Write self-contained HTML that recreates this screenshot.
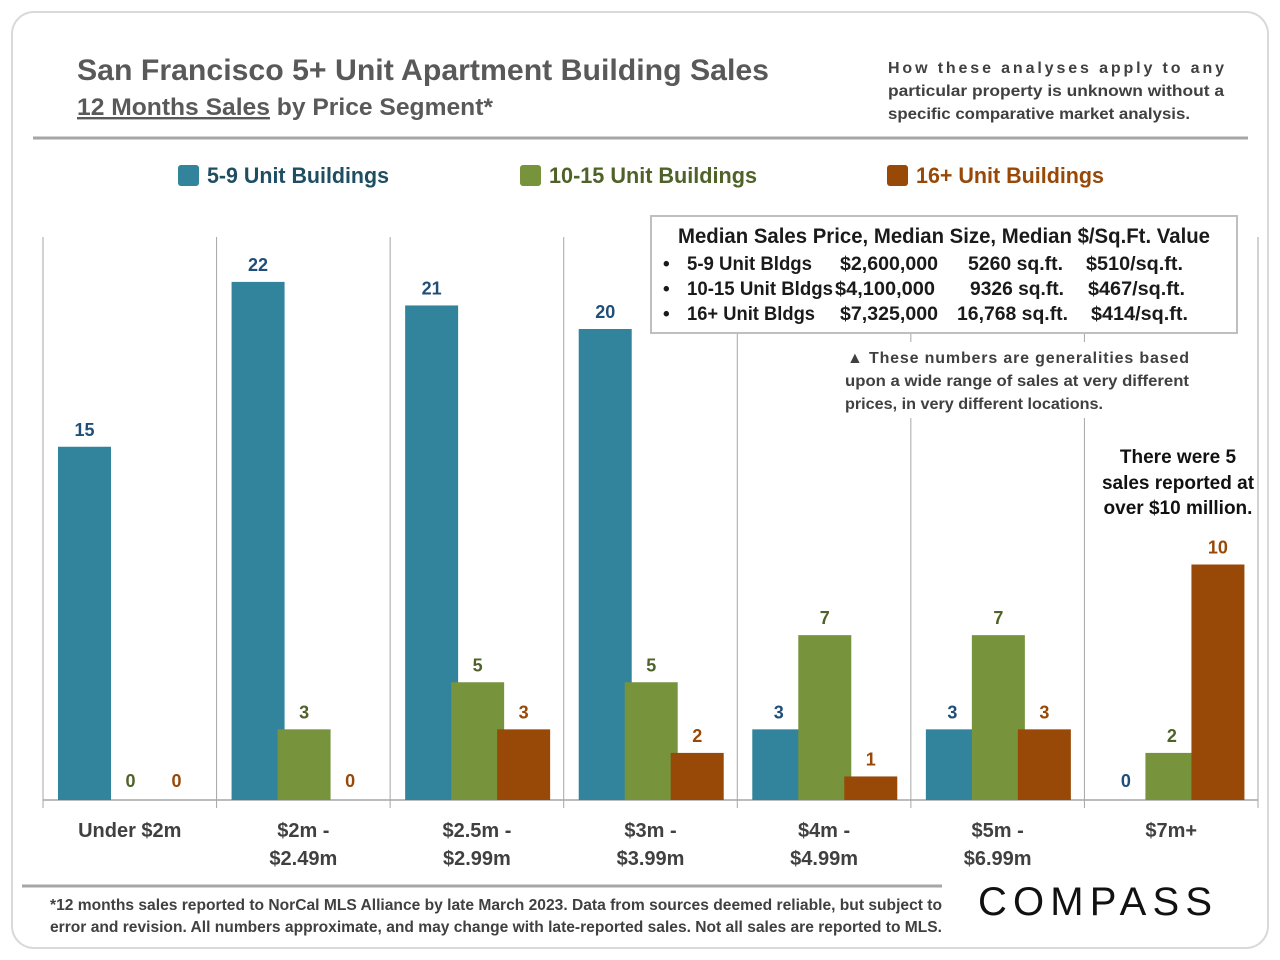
<!DOCTYPE html>
<html><head><meta charset="utf-8"><style>
body{margin:0;background:#fff}
svg{display:block;font-family:"Liberation Sans",sans-serif}
</style></head><body>
<svg id="c" width="1280" height="960" viewBox="0 0 1280 960">
<rect x="12" y="12" width="1256" height="936" rx="22" fill="#fff" stroke="#d9d9d9" stroke-width="2"/>
<text x="77" y="80" font-size="30" font-weight="bold" fill="#595959" textLength="692" lengthAdjust="spacingAndGlyphs">San Francisco 5+ Unit Apartment Building Sales</text>
<text x="77" y="115" font-size="24" font-weight="bold" fill="#595959" textLength="416" lengthAdjust="spacingAndGlyphs"><tspan text-decoration="underline">12 Months Sales</tspan> by Price Segment*</text>
<g font-size="16" fill="#404040" font-weight="bold">
<text x="888" y="73" textLength="336" lengthAdjust="spacing">How these analyses apply to any</text>
<text x="888" y="96" textLength="336" lengthAdjust="spacingAndGlyphs">particular property is unknown without a</text>
<text x="888" y="119" textLength="302" lengthAdjust="spacingAndGlyphs">specific comparative market analysis.</text>
</g>
<line x1="33" y1="138" x2="1248" y2="138" stroke="#a6a6a6" stroke-width="3"/>
<g font-size="22" font-weight="bold">
<rect x="178" y="165" width="21" height="21" rx="3" fill="#31849b"/>
<text x="207" y="183" fill="#1f4e63" textLength="182" lengthAdjust="spacingAndGlyphs">5-9 Unit Buildings</text>
<rect x="520" y="165" width="21" height="21" rx="3" fill="#77933c"/>
<text x="549" y="183" fill="#4f6228" textLength="208" lengthAdjust="spacingAndGlyphs">10-15 Unit Buildings</text>
<rect x="887" y="165" width="21" height="21" rx="3" fill="#984807"/>
<text x="916" y="183" fill="#984807" textLength="188" lengthAdjust="spacingAndGlyphs">16+ Unit Buildings</text>
</g>
<g id="plot"></g>
<rect x="651" y="216" width="586" height="117" fill="#fff" stroke="#bfbfbf" stroke-width="2"/>
<g font-weight="bold" fill="#1a1a1a">
<text x="944" y="243" font-size="21" text-anchor="middle" textLength="532" lengthAdjust="spacingAndGlyphs">Median Sales Price, Median Size, Median $/Sq.Ft. Value</text>
<g font-size="19">
<text x="663" y="270">•</text><text x="687" y="270" textLength="125" lengthAdjust="spacingAndGlyphs">5-9 Unit Bldgs</text><text x="840" y="270" textLength="98" lengthAdjust="spacingAndGlyphs">$2,600,000</text><text x="968" y="270" textLength="95" lengthAdjust="spacingAndGlyphs">5260 sq.ft.</text><text x="1086" y="270" textLength="97" lengthAdjust="spacingAndGlyphs">$510/sq.ft.</text>
<text x="663" y="295">•</text><text x="687" y="295" textLength="146" lengthAdjust="spacingAndGlyphs">10-15 Unit Bldgs</text><text x="835" y="295" textLength="100" lengthAdjust="spacingAndGlyphs">$4,100,000</text><text x="970" y="295" textLength="94" lengthAdjust="spacingAndGlyphs">9326 sq.ft.</text><text x="1088" y="295" textLength="97" lengthAdjust="spacingAndGlyphs">$467/sq.ft.</text>
<text x="663" y="320">•</text><text x="687" y="320" textLength="128" lengthAdjust="spacingAndGlyphs">16+ Unit Bldgs</text><text x="840" y="320" textLength="98" lengthAdjust="spacingAndGlyphs">$7,325,000</text><text x="957" y="320" textLength="111" lengthAdjust="spacingAndGlyphs">16,768 sq.ft.</text><text x="1091" y="320" textLength="97" lengthAdjust="spacingAndGlyphs">$414/sq.ft.</text>
</g></g>
<rect x="838" y="342" width="360" height="76" fill="#fff"/>
<g font-size="16" font-weight="bold" fill="#404040">
<text x="847" y="363" textLength="342" lengthAdjust="spacing">▲ These numbers are generalities based</text>
<text x="845" y="386" textLength="344" lengthAdjust="spacingAndGlyphs">upon a wide range of sales at very different</text>
<text x="845" y="409" textLength="258" lengthAdjust="spacingAndGlyphs">prices, in very different locations.</text>
</g>
<g font-size="19" font-weight="bold" fill="#111" text-anchor="middle">
<text x="1178" y="463">There were 5</text>
<text x="1178" y="489">sales reported at</text>
<text x="1178" y="514">over $10 million.</text>
</g>
<line x1="22" y1="886" x2="942" y2="886" stroke="#a6a6a6" stroke-width="3"/>
<g font-size="16" font-weight="bold" fill="#404040">
<text x="50" y="910" textLength="892" lengthAdjust="spacingAndGlyphs">*12 months sales reported to NorCal MLS Alliance by late March 2023. Data from sources deemed reliable, but subject to</text>
<text x="50" y="932" textLength="892" lengthAdjust="spacingAndGlyphs">error and revision. All numbers approximate, and may change with late-reported sales. Not all sales are reported to MLS.</text>
</g>
<text x="978" y="915" font-size="40" fill="#111" textLength="234" lengthAdjust="spacing">COMPASS</text>
</svg>
<script>
const categories=["Under $2m","$2m -|$2.49m","$2.5m -|$2.99m","$3m -|$3.99m","$4m -|$4.99m","$5m -|$6.99m","$7m+"];
const units59=[15,22,21,20,3,3,0];
const units1015=[0,3,5,5,7,7,2];
const units16=[0,0,3,2,1,3,10];
const series=[units59,units1015,units16];
const colors=["#31849b","#77933c","#984807"];
const labelColors=["#1f4e79","#4f6228","#984807"];
const names=["5-9","10-15","16plus"];
const NS="http://www.w3.org/2000/svg";
const g=document.getElementById("plot");
const x0=43,x1=1258,base=800,unit=23.55;
const gw=(x1-x0)/categories.length;
const y=v=>base-v*unit;
const gx=i=>x0+i*gw;
function mk(t,a){const e=document.createElementNS(NS,t);for(const k in a)e.setAttribute(k,a[k]);g.appendChild(e);return e;}
for(let i=0;i<=categories.length;i++){
 const l=mk("line",{x1:gx(i),x2:gx(i),y1:237,y2:808,stroke:"#a6a6a6","stroke-width":1});
 
 
}
const bl=mk("line",{x1:x0,x2:x1,y1:base,y2:base,stroke:"#a6a6a6","stroke-width":1.5});


categories.forEach((c,i)=>{
 series.forEach((s,j)=>{
  const v=s[i],bx=gx(i)+15+j*46;
  if(v>0){
   const r=mk("rect",{x:bx,y:y(v),width:53,height:v*unit,fill:colors[j]});
   
   
  }
  const t=mk("text",{x:bx+26.5,y:v>0?y(v)-11:787,"text-anchor":"middle","font-size":18,"font-weight":"bold",fill:labelColors[j]});
  t.textContent=v;
  
  
 });
 c.split("|").forEach((ln,k)=>{
  const t=mk("text",{x:gx(i)+gw/2,y:837+k*28,"text-anchor":"middle","font-size":20,"font-weight":"bold",fill:"#404040"});
  t.textContent=ln;
  
  
 });
});
</script>
</body></html>
